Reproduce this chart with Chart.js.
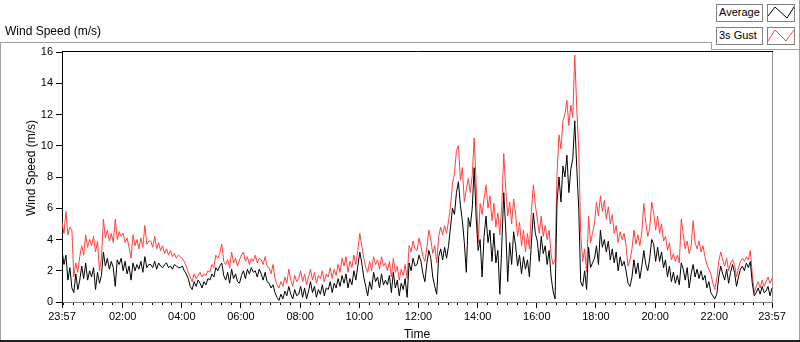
<!DOCTYPE html>
<html>
<head>
<meta charset="utf-8">
<script src="https://cdn.jsdelivr.net/npm/chart.js@4/dist/chart.umd.min.js"></script>
<style>
html,body{margin:0;padding:0;background:#fff;}
#wrap{position:relative;width:800px;height:342px;overflow:hidden;font-family:"Liberation Sans",Arial,sans-serif;color:#000;}
#c{position:absolute;left:0;top:0;}
.t{position:absolute;white-space:nowrap;}
#title{left:5px;top:24px;font-size:12px;line-height:15px;}
#ytitle{left:31px;top:168px;font-size:12px;line-height:14px;transform:translate(-50%,-50%) rotate(-90deg);}
.lbox{position:absolute;box-sizing:border-box;border:1px solid #808080;background:#fff;font-size:11px;line-height:15px;padding-left:2px;}
.ibox{position:absolute;box-sizing:border-box;border:1px solid #808080;background:#fff;}
svg{position:absolute;left:0;top:0;}
</style>
</head>
<body>
<div id="wrap">
  <svg width="800" height="342" id="frame">
    <line x1="0" y1="42.5" x2="711.5" y2="42.5" stroke="#a0a0a0" stroke-width="1"/>
    <line x1="711.5" y1="42" x2="711.5" y2="50" stroke="#a0a0a0" stroke-width="1"/>
    <line x1="711" y1="49.5" x2="800" y2="49.5" stroke="#a0a0a0" stroke-width="1"/>
    <line x1="0.5" y1="42" x2="0.5" y2="342" stroke="#a0a0a0" stroke-width="1"/>
    <line x1="799.5" y1="0" x2="799.5" y2="342" stroke="#a0a0a0" stroke-width="1"/>
    <line x1="0" y1="341" x2="800" y2="341" stroke="#202020" stroke-width="2"/>
  </svg>
  <canvas id="c" width="800" height="342"></canvas>
  <div class="t" id="title">Wind Speed (m/s)</div>
  <div class="t" id="ytitle">Wind Speed (m/s)</div>
  <div class="lbox" style="left:716px;top:4px;width:47px;height:18px;">Average</div>
  <div class="ibox" style="left:767px;top:4px;width:28px;height:18px;">
    <svg width="26" height="16" style="left:0;top:0"><polyline points="0,11 7,2 19,13 26,2" fill="none" stroke="#000" stroke-width="1"/></svg>
  </div>
  <div class="lbox" style="left:716px;top:27px;width:47px;height:18px;">3s Gust</div>
  <div class="ibox" style="left:767px;top:27px;width:28px;height:18px;">
    <svg width="26" height="16" style="left:0;top:0"><polyline points="0,13 7,2 18,13 26,2" fill="none" stroke="#ff4040" stroke-width="1"/></svg>
  </div>
</div>
<script>
// ---- data (one sample every 4 minutes, starting at 23:57) ----
const sampleStepMin = 4;
const startClock = '23:57';
const spanMin = 1440;

const avgSpeed = [
  3.3,2.4,3.0,1.4,2.2,0.9,0.6,1.8,0.8,1.4,2.3,1.5,2.5,1.4,2.0,
  1.6,2.2,0.8,1.9,1.2,1.7,3.2,2.3,2.8,2.1,2.6,2.2,1.0,2.7,2.4,
  2.8,2.0,2.6,1.8,2.3,1.4,2.5,2.0,2.4,2.1,2.6,1.9,2.9,2.2,2.4,
  2.4,2.2,2.6,2.1,2.5,2.3,2.2,2.4,2.5,2.2,2.3,2.1,2.4,2.3,2.2,
  2.2,2.3,2.0,1.8,1.5,1.0,0.8,1.3,1.0,1.4,1.2,0.9,1.3,1.1,1.5,
  1.4,1.8,1.6,2.2,2.0,2.3,2.5,1.7,1.4,1.9,1.2,2.1,1.5,1.8,1.3,
  1.2,1.7,2.0,1.5,2.1,1.8,2.2,1.9,2.0,1.6,2.1,1.8,1.4,1.9,1.3,
  1.2,0.9,1.1,0.6,0.3,0.1,0.5,0.2,0.7,0.4,1.0,0.5,0.2,0.8,0.4,
  0.5,1.0,0.3,0.9,0.2,0.7,1.3,0.6,1.0,0.3,0.8,0.5,1.1,0.4,0.9,
  0.8,1.3,0.6,1.2,0.9,1.5,1.0,1.7,1.2,1.8,0.9,1.5,1.1,2.0,1.4,
  2.3,3.2,2.5,1.6,1.0,0.4,1.3,0.8,1.9,1.3,1.6,0.9,1.8,1.1,1.4,
  1.1,1.7,0.6,1.9,0.9,1.4,0.4,1.2,0.8,1.5,0.3,2.5,2.0,2.8,2.3,
  2.4,3.0,2.6,1.8,1.3,2.5,3.3,2.8,1.6,1.0,0.5,2.9,3.4,2.7,3.5,
  2.8,3.6,4.8,6.0,5.6,7.0,7.7,6.2,5.2,3.8,1.9,5.4,4.8,6.0,8.6,
  5.4,3.3,4.0,1.6,4.2,5.5,3.8,4.6,2.6,4.4,2.5,3.3,0.5,3.7,7.0,
  4.6,1.3,3.8,2.4,4.5,3.6,2.3,3.0,1.8,2.9,2.1,2.7,1.6,3.8,5.7,
  4.4,3.9,2.6,4.2,3.1,3.6,2.4,3.3,1.6,0.7,0.2,6.4,8.0,6.4,8.7,
  8.0,9.4,7.0,8.5,9.2,11.6,8.6,6.0,1.3,1.0,2.0,0.8,3.5,2.2,2.5,
  2.8,3.6,2.4,4.6,3.5,4.0,3.2,3.9,2.7,3.4,2.5,3.2,2.0,2.9,2.3,
  2.6,2.0,1.2,1.0,1.6,2.7,1.8,2.5,1.5,2.3,3.3,2.4,2.0,2.8,4.0,
  3.7,2.6,3.5,2.6,3.2,2.2,2.7,1.6,2.3,1.3,1.9,1.2,1.7,1.1,2.5,
  2.1,1.4,2.2,0.9,1.8,2.4,1.6,2.1,1.5,2.0,1.4,1.7,0.9,1.3,0.6,
  0.4,0.2,0.5,1.6,2.3,1.8,1.4,2.1,1.2,1.9,2.4,1.9,1.0,1.6,2.1,
  2.3,2.0,2.5,2.2,2.6,1.2,0.4,0.6,0.9,0.5,1.0,0.6,0.7,1.0,0.4,0.9
];

const gustSpeed = [
  5.1,4.4,5.8,4.3,4.8,4.6,1.6,2.5,1.9,2.9,3.6,3.0,4.3,3.5,4.0,
  3.6,4.2,3.2,3.9,2.0,2.8,5.3,4.1,4.6,3.9,4.4,3.8,5.3,4.0,4.5,
  4.2,4.4,3.8,4.1,3.5,2.8,4.3,3.6,4.0,3.4,4.1,3.5,4.9,3.7,3.9,
  3.9,3.5,4.2,3.4,3.8,3.3,3.6,3.1,3.4,3.0,3.3,2.9,3.1,2.8,3.0,
  2.9,2.8,2.6,2.3,1.9,1.6,1.3,1.8,1.5,1.7,1.9,1.6,1.8,1.7,2.0,
  1.9,2.4,2.2,3.0,2.8,3.1,3.7,2.6,2.4,2.7,2.2,3.2,2.5,2.8,2.3,
  2.7,3.0,3.2,2.6,2.9,2.4,2.8,2.6,3.0,2.5,2.8,2.7,2.4,2.9,2.3,
  2.2,1.8,2.4,1.5,1.1,0.9,1.3,1.0,1.6,1.2,2.1,1.4,1.0,1.7,1.3,
  1.5,2.0,1.3,1.8,1.1,1.6,2.1,1.4,1.9,1.2,1.7,1.5,2.0,1.3,1.8,
  1.6,2.2,1.5,2.1,1.7,2.4,1.9,2.8,2.3,2.9,1.9,2.6,2.2,3.0,2.4,
  3.3,4.4,3.6,2.8,2.2,1.9,2.6,2.0,2.9,2.4,2.7,2.1,2.9,2.3,2.5,
  2.0,2.6,1.6,2.8,1.9,2.3,1.4,2.1,1.7,2.4,1.5,3.6,3.2,3.9,3.4,
  3.3,4.1,3.6,2.9,2.6,3.5,4.6,4.0,3.1,3.6,2.5,4.2,4.8,4.3,4.9,
  4.4,5.2,6.1,7.6,8.2,9.7,10.0,7.8,8.6,6.4,7.2,7.9,7.0,8.1,10.5,
  7.6,3.8,6.3,5.6,6.6,7.5,6.0,6.8,5.2,6.3,4.8,5.7,4.3,6.2,9.5,
  7.2,5.5,6.4,5.0,6.6,5.6,4.2,5.1,3.6,4.6,3.2,4.4,3.4,5.8,7.5,
  6.2,5.3,4.4,5.5,4.2,4.9,4.0,4.6,3.0,2.4,2.7,8.2,10.7,9.8,11.6,
  12.0,12.9,11.3,12.6,11.8,15.8,12.4,9.8,4.4,2.6,3.4,1.9,5.5,3.8,4.4,
  5.0,6.4,5.5,6.8,5.8,6.5,5.3,6.1,5.0,5.6,4.4,4.9,3.8,4.5,4.0,
  4.4,3.6,2.3,2.7,3.4,4.6,3.7,4.3,3.6,4.5,6.3,5.1,4.2,4.7,6.4,
  5.7,4.6,5.5,4.4,5.0,3.9,4.2,3.3,3.8,2.7,3.1,2.6,3.0,2.5,5.3,
  4.3,3.4,3.9,3.1,3.6,5.2,3.8,3.4,3.9,3.2,3.6,2.9,2.4,2.1,1.8,
  1.2,0.8,1.5,2.6,3.2,2.7,2.3,2.8,2.0,2.5,2.7,2.4,1.6,2.2,2.6,
  2.8,2.6,2.9,2.7,3.3,1.8,0.6,1.0,1.3,0.9,1.4,1.0,1.3,1.6,1.2,1.5
];

const majorTickLabels = ['23:57','02:00','04:00','06:00','08:00','10:00','12:00','14:00','16:00','18:00','20:00','22:00','23:57'];
const minorTickStepMin = 20;
const yTickValues = [0,2,4,6,8,10,12,14,16];

// ---- helpers ----
function clockMin(s){ const p = s.split(':'); return (+p[0])*60 + (+p[1]); }
const startMin = clockMin(startClock);
const majorMap = new Map();
majorTickLabels.forEach((lab, i) => {
  const off = (i === majorTickLabels.length - 1) ? spanMin : ((clockMin(lab) - startMin) % 1440 + 1440) % 1440;
  majorMap.set(off, lab);
});
const majorValues = [...majorMap.keys()];
const minorValues = [];
for (let v = ((-startMin % minorTickStepMin) + minorTickStepMin) % minorTickStepMin; v < spanMin; v += minorTickStepMin) {
  if (!majorMap.has(v)) minorValues.push(v);
}
const toXY = arr => arr.map((v, i) => ({x: i * sampleStepMin, y: v}));

const FONT = '"Liberation Sans", Arial, sans-serif';

const framePlugin = {
  id: 'frame',
  afterDraw(chart) {
    const a = chart.chartArea, ctx = chart.ctx;
    ctx.save();
    ctx.lineWidth = 1;
    ctx.strokeStyle = '#000';
    ctx.beginPath(); ctx.moveTo(a.left, Math.round(a.top) - 0.5); ctx.lineTo(a.right + 1, Math.round(a.top) - 0.5); ctx.stroke();
    ctx.strokeStyle = '#909090';
    ctx.beginPath(); ctx.moveTo(Math.round(a.right) + 0.5, a.top); ctx.lineTo(Math.round(a.right) + 0.5, a.bottom + 1); ctx.stroke();
    ctx.restore();
  }
};

new Chart(document.getElementById('c'), {
  type: 'line',
  data: {
    datasets: [
      { label: 'Average', data: toXY(avgSpeed), borderColor: '#000000', borderWidth: 1, pointRadius: 0, tension: 0, xAxisID: 'x', yAxisID: 'y' },
      { label: '3s Gust', data: toXY(gustSpeed), borderColor: '#ff4040', borderWidth: 1, pointRadius: 0, tension: 0, xAxisID: 'x', yAxisID: 'y' }
    ]
  },
  options: {
    responsive: false,
    animation: false,
    devicePixelRatio: 1,
    layout: { padding: { left: 0, top: 52, right: 28, bottom: 0 } },
    plugins: { legend: { display: false }, tooltip: { enabled: false } },
    scales: {
      xm: {
        type: 'linear', position: 'bottom', weight: 0, min: 0, max: spanMin,
        afterBuildTicks: s => { s.ticks = minorValues.map(v => ({value: v})); },
        afterFit: s => { s.height = 0; },
        ticks: { display: false, autoSkip: false },
        grid: { drawOnChartArea: false, drawTicks: true, tickLength: 3, tickColor: '#000' },
        border: { display: true, color: '#808080' }
      },
      x: {
        type: 'linear', position: 'bottom', weight: 1, min: 0, max: spanMin,
        afterBuildTicks: s => { s.ticks = majorValues.map(v => ({value: v})); },
        afterFit: s => { s.height = 40; },
        ticks: { autoSkip: false, maxRotation: 0, minRotation: 0, padding: 2, color: '#000',
                 font: { family: FONT, size: 11 }, callback: v => majorMap.has(v) ? majorMap.get(v) : '' },
        grid: { drawOnChartArea: false, drawTicks: true, tickLength: 6, tickColor: '#000' },
        border: { display: true, color: '#808080' },
        title: { display: true, text: 'Time', color: '#000', font: { family: FONT, size: 12 }, padding: { top: 1, bottom: 0 } }
      },
      y: {
        type: 'linear', position: 'left', min: 0, max: 16,
        afterBuildTicks: s => { s.ticks = yTickValues.map(v => ({value: v})); },
        afterFit: s => { s.width = 62; },
        ticks: { autoSkip: false, padding: 3, color: '#000', font: { family: FONT, size: 11 } },
        grid: { drawOnChartArea: false, drawTicks: true, tickLength: 6, tickColor: '#000' },
        border: { display: true, color: '#000' }
      }
    }
  },
  plugins: [framePlugin]
});
</script>
</body>
</html>
